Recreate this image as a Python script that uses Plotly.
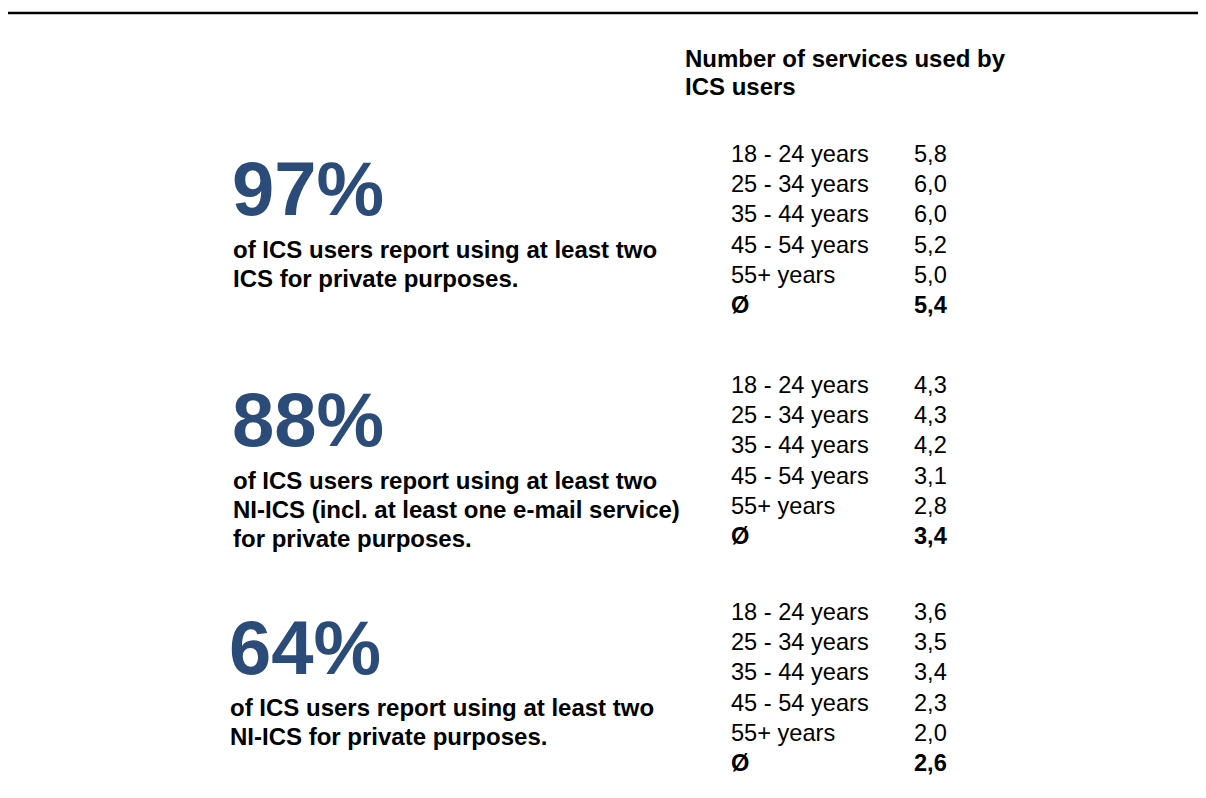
import plotly.graph_objects as go

# ---- data ----
age_groups = ["18 - 24 years", "25 - 34 years", "35 - 44 years", "45 - 54 years", "55+ years"]
avg_label = "Ø"
ics_services = [5.8, 6.0, 6.0, 5.2, 5.0]
ics_avg = 5.4
ni_email_services = [4.3, 4.3, 4.2, 3.1, 2.8]
ni_email_avg = 3.4
ni_services = [3.6, 3.5, 3.4, 2.3, 2.0]
ni_avg = 2.6
share_pct = [97, 88, 64]
descriptions = [
    ["of ICS users report using at least two", "ICS for private purposes."],
    ["of ICS users report using at least two", "NI-ICS (incl. at least one e-mail service)", "for private purposes."],
    ["of ICS users report using at least two", "NI-ICS for private purposes."],
]
header = ["Number of services used by", "ICS users"]

def fmt(v):
    return f"{v:.1f}".replace(".", ",")

OFF = 8  # browser body margin
W, H = 1198, 782
FONT = "Liberation Sans, Arial, sans-serif"
BLUE = "#2B4B78"

fig = go.Figure()
fig.update_layout(
    width=W, height=H,
    margin=dict(l=0, r=0, t=0, b=0),
    paper_bgcolor="white", plot_bgcolor="white",
    xaxis=dict(range=[OFF, W + OFF], visible=False, fixedrange=True),
    yaxis=dict(range=[H + OFF, OFF], visible=False, fixedrange=True),
    showlegend=False,
)

# top rule
fig.add_shape(type="line", xref="x", yref="y", x0=4, x1=W + OFF, y0=13, y1=13,
              line=dict(color="black", width=2.5))

ann = []
def add(text, x, y, size, bold=False, color="black"):
    t = f"<b>{text}</b>" if bold else text
    ann.append(dict(text=t, x=x, y=y, xref="x", yref="y", showarrow=False,
                    xanchor="left", yanchor="middle", align="left",
                    font=dict(family=FONT, size=size, color=color)))

# header
for k, line in enumerate(header):
    add(line, 683, 58 + k * 28.5, 24, bold=True)

sections = [
    dict(big_x=230, big_y=188, desc_x=231, desc_y0=249, rows_y0=154,
         vals=ics_services, avg=ics_avg),
    dict(big_x=230, big_y=419, desc_x=231, desc_y0=480, rows_y0=385,
         vals=ni_email_services, avg=ni_email_avg),
    dict(big_x=227, big_y=647, desc_x=228, desc_y0=707, rows_y0=612,
         vals=ni_services, avg=ni_avg),
]
row_step = 30.2
for i, s in enumerate(sections):
    add(f"{share_pct[i]}%", s["big_x"], s["big_y"], 76, bold=True, color=BLUE)
    for k, line in enumerate(descriptions[i]):
        add(line, s["desc_x"], s["desc_y0"] + k * 29.2, 24, bold=True)
    for j, (g, v) in enumerate(zip(age_groups, s["vals"])):
        y = s["rows_y0"] + j * row_step
        add(g, 729, y, 23.6)
        add(fmt(v), 912, y, 23.6)
    y = s["rows_y0"] + 5 * row_step
    add(avg_label, 729, y, 23.6, bold=True)
    add(fmt(s["avg"]), 912, y, 23.6, bold=True)

fig.update_layout(annotations=ann)
fig.write_html("out.html")
